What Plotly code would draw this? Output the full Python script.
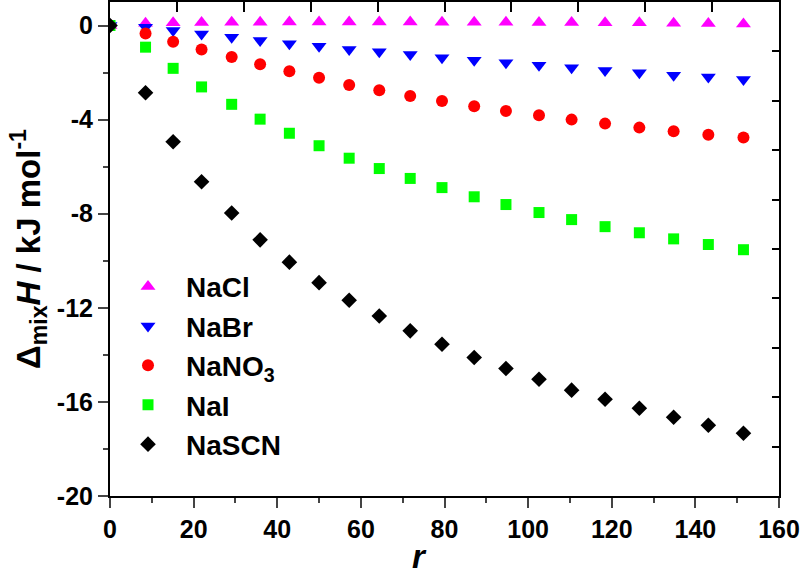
import plotly.graph_objects as go

r_values = [0, 8.5, 15.1, 21.9, 29.1, 35.9, 42.9, 50.0, 57.2, 64.4, 71.8,
            79.4, 87.1, 94.7, 102.6, 110.4, 118.4, 126.6, 134.8, 143.1, 151.5]

nacl = [0, 0.10, 0.12, 0.13, 0.14, 0.14, 0.15, 0.15, 0.15, 0.15, 0.15,
        0.14, 0.14, 0.14, 0.13, 0.13, 0.12, 0.12, 0.10, 0.09, 0.07]
nabr = [0, -0.07, -0.21, -0.36, -0.50, -0.64, -0.78, -0.88, -1.02, -1.12, -1.23,
        -1.37, -1.48, -1.58, -1.69, -1.80, -1.91, -2.01, -2.11, -2.19, -2.29]
nano3 = [0, -0.34, -0.69, -1.02, -1.34, -1.65, -1.94, -2.22, -2.53, -2.75, -3.00,
         -3.21, -3.43, -3.63, -3.81, -4.00, -4.17, -4.34, -4.49, -4.64, -4.76]
nai = [0, -0.92, -1.82, -2.61, -3.35, -3.98, -4.58, -5.11, -5.64, -6.08, -6.50,
       -6.89, -7.28, -7.61, -7.95, -8.25, -8.55, -8.81, -9.07, -9.31, -9.53]
nascn = [0, -2.86, -4.94, -6.64, -7.97, -9.11, -10.06, -10.93, -11.68, -12.35, -12.98,
         -13.55, -14.11, -14.58, -15.04, -15.50, -15.89, -16.27, -16.65, -16.99, -17.33]

series_names = ["NaCl", "NaBr", "NaNO<sub>3</sub>", "NaI", "NaSCN"]
series_values = [nacl, nabr, nano3, nai, nascn]
symbols = ["triangle-up", "triangle-down", "circle", "square", "diamond"]
colors = ["#FF00FF", "#0000FF", "#FF0000", "#00FF00", "#000000"]
sizes = [13, 13, 12, 11, 12]

x_ticks = [0, 20, 40, 60, 80, 100, 120, 140, 160]
x_ticktext = ["<b>%d</b>" % v for v in x_ticks]
y_ticks = [0, -4, -8, -12, -16, -20]
y_ticktext = ["<b>0</b>", "<b>-4</b>", "<b>-8</b>", "<b>-12</b>", "<b>-16</b>", "<b>-20</b>"]

# mirrored frame axes (top / right) divided into 10 parts
frame_ticks = [0, 1, 2, 3, 4, 5, 6, 7, 8, 9, 10]

FONT = "Arial, Liberation Sans, sans-serif"

fig = go.Figure()
for name, vals, sym, col, sz in zip(series_names, series_values, symbols, colors, sizes):
    fig.add_trace(go.Scatter(x=r_values, y=vals, mode="markers", name="<b>%s</b>" % name,
                             marker=dict(symbol=sym, color=col, size=sz, line=dict(width=0))))

# helper trace so the mirrored top/right axes are drawn
fig.add_trace(go.Scatter(x=frame_ticks, y=frame_ticks, xaxis="x2", yaxis="y2", mode="markers",
                         marker=dict(opacity=0, size=1), showlegend=False, hoverinfo="skip"))

fig.update_layout(
    width=800, height=577,
    margin=dict(l=110, r=21, t=2, b=81),
    paper_bgcolor="white", plot_bgcolor="white",
    font=dict(family=FONT, size=25, color="black"),
    showlegend=True,
    legend=dict(x=0.0, y=0.474, xanchor="left", yanchor="top",
                font=dict(family=FONT, size=28, color="black"),
                bgcolor="rgba(0,0,0,0)", itemwidth=66, tracegroupgap=0),
    xaxis=dict(range=[0, 160], tickvals=x_ticks, ticktext=x_ticktext, ticks="outside",
               ticklen=10, tickwidth=2, automargin=False,
               showline=True, linewidth=2, linecolor="black", mirror=True,
               showgrid=False, zeroline=False,
               minor=dict(dtick=10, ticks="outside", ticklen=5, tickwidth=2, showgrid=False),
               tickfont=dict(size=25, family=FONT)),
    yaxis=dict(range=[-20, 1], tickvals=y_ticks, ticktext=y_ticktext, ticks="outside", ticklen=10,
               tickwidth=2, automargin=False, showline=True, linewidth=2, linecolor="black",
               mirror=True, showgrid=False, zeroline=False,
               minor=dict(dtick=2, ticks="outside", ticklen=5, tickwidth=2, showgrid=False),
               tickfont=dict(size=25, family=FONT),
               title=dict(text="<b>Δ<sub>mix</sub><i>H</i> / kJ mol<sup>-1</sup></b>",
                          font=dict(size=33, family=FONT), standoff=6)),
    xaxis2=dict(overlaying="x", side="top", anchor="y", range=[0, 10], tickvals=frame_ticks,
                ticks="inside", ticklen=10, tickwidth=2, tickcolor="black",
                showticklabels=False, automargin=False,
                showline=False, showgrid=False, zeroline=False),
    yaxis2=dict(overlaying="y", side="right", anchor="x", range=[0, 10], tickvals=frame_ticks,
                ticks="inside", ticklen=7, tickwidth=2, tickcolor="black",
                showticklabels=False, automargin=False,
                showline=False, showgrid=False, zeroline=False),
    annotations=[dict(text="<b><i>r</i></b>", xref="paper", yref="paper", x=0.463, y=-0.122,
                      xanchor="center", yanchor="middle", showarrow=False,
                      font=dict(size=33, family=FONT, color="black"))],
)

fig.write_html("out.html", config={"displayModeBar": False},
               post_script="document.body.style.margin='0px';")
